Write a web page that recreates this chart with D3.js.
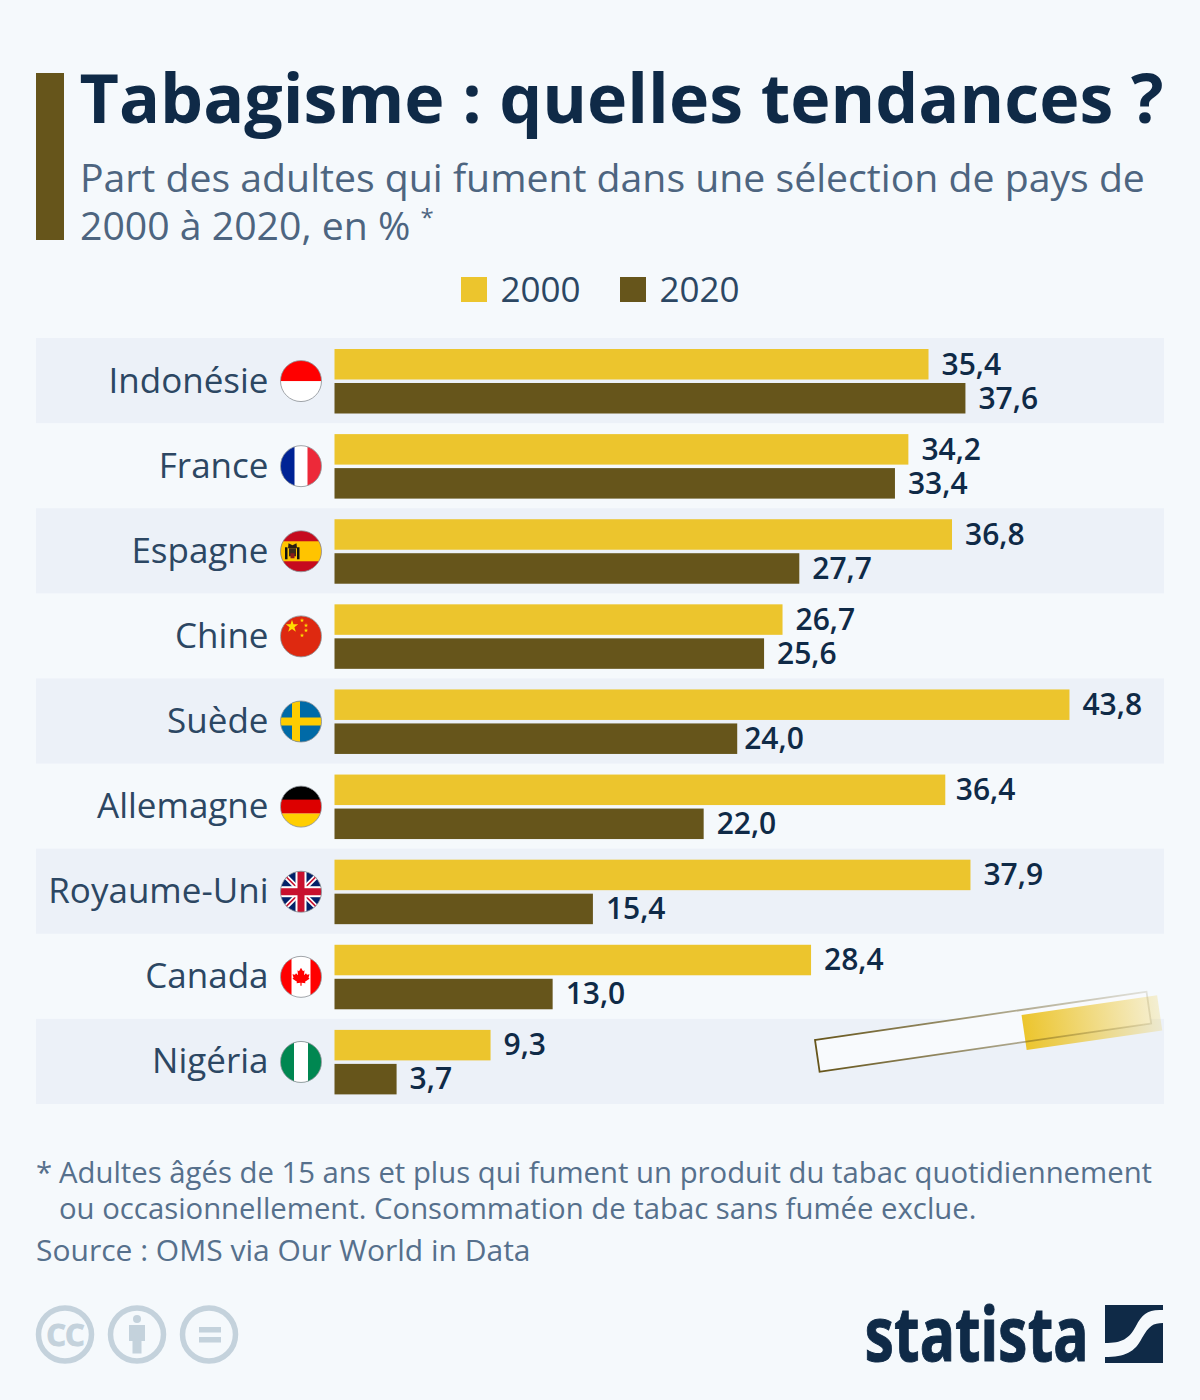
<!DOCTYPE html>
<html lang="fr">
<head>
<meta charset="utf-8">
<title>Tabagisme : quelles tendances ?</title>
<script src="https://cdn.jsdelivr.net/npm/d3@7"></script>
<style>
  html, body { margin: 0; padding: 0; background: #f5f9fc; }
  svg { display: block; font-family: 'Open Sans', sans-serif; }
</style>
</head>
<body>
<svg id="chart" width="1200" height="1400"></svg>
<script>
const categories = ['Indonésie', 'France', 'Espagne', 'Chine', 'Suède', 'Allemagne', 'Royaume-Uni', 'Canada', 'Nigéria'];
const values2000 = [35.4, 34.2, 36.8, 26.7, 43.8, 36.4, 37.9, 28.4, 9.3];
const values2020 = [37.6, 33.4, 27.7, 25.6, 24.0, 22.0, 15.4, 13.0, 3.7];
const years = ['2000', '2020'];

const navy = '#0f2a47', slate = '#4d6580', yellow = '#ecc52d', brown = '#66551b';

const svg = d3.select('#chart');
const defs = svg.append('defs');

// header
svg.append('rect').attr('x', 36).attr('y', 73).attr('width', 28).attr('height', 167).attr('fill', brown);
svg.append('text').attr('x', 79.5).attr('y', 123)
  .attr('font-size', 68.1).attr('font-weight', 700).attr('fill', navy)
  .text('Tabagisme : quelles tendances ?');
svg.append('text').attr('x', 80).attr('y', 192)
  .attr('font-size', 39.2).attr('fill', slate)
  .text('Part des adultes qui fument dans une sélection de pays de');
const sub2 = svg.append('text').attr('x', 80).attr('y', 240)
  .attr('font-size', 39.2).attr('fill', slate)
  .text('2000 à 2020, en % ');
sub2.append('tspan').attr('font-size', 24).attr('dy', -14).text('*');

// legend
const legendColor = d3.scaleOrdinal().domain(years).range([yellow, brown]);
const legendX = d3.scaleOrdinal().domain(years).range([461, 620]);
const legend = svg.append('g').selectAll('g').data(years).join('g')
  .attr('transform', d => `translate(${legendX(d)},277)`);
legend.append('rect').attr('width', 26).attr('height', 25).attr('fill', d => legendColor(d));
legend.append('text').attr('x', 39.5).attr('y', 25)
  .attr('font-size', 35).attr('fill', '#2c4763').text(d => d);

// rows and bars
const y = d3.scaleBand().domain(categories).range([338, 1104]);
const x = d3.scaleLinear().domain([0, 50]).range([334.5, 1173.5]);
const barH = 30.5;
const fmt = v => v.toFixed(1).replace('.', ',');

const rows = svg.append('g').selectAll('g').data(categories).join('g')
  .attr('transform', d => `translate(0,${y(d)})`);

rows.append('rect')
  .attr('x', 36).attr('width', 1128).attr('height', y.bandwidth())
  .attr('fill', (d, i) => i % 2 === 0 ? '#ecf1f8' : 'none');

rows.append('text')
  .attr('x', 268.5).attr('y', y.bandwidth() / 2 + 12)
  .attr('text-anchor', 'end').attr('font-size', 35).attr('fill', '#2c4763')
  .text(d => d);

rows.append('rect').attr('x', x(0)).attr('y', 11).attr('height', barH)
  .attr('width', (d, i) => x(values2000[i]) - x(0)).attr('fill', yellow);
rows.append('rect').attr('x', x(0)).attr('y', 45).attr('height', barH)
  .attr('width', (d, i) => x(values2020[i]) - x(0)).attr('fill', brown);

rows.append('text').attr('x', (d, i) => x(values2000[i]) + (d === 'Allemagne' ? 10.5 : 13)).attr('y', 36.5)
  .attr('font-size', 30).attr('font-weight', 600).attr('fill', navy)
  .text((d, i) => fmt(values2000[i]));
rows.append('text').attr('x', (d, i) => x(values2020[i]) + (d === 'Suède' ? 7 : 13)).attr('y', 70.5)
  .attr('font-size', 30).attr('font-weight', 600).attr('fill', navy)
  .text((d, i) => fmt(values2020[i]));

// flags, drawn in a 41x41 box centred on 0,0
const R = 20.5;
const band = (g, color, x0, y0, w, h) =>
  g.append('rect').attr('x', x0).attr('y', y0).attr('width', w).attr('height', h).attr('fill', color);
const star = (g, size, cx, cy, color) =>
  g.append('path').attr('d', d3.symbol(d3.symbolStar, size)())
    .attr('transform', `translate(${cx},${cy})`).attr('fill', color);

const flags = {
  'Indonésie': g => { band(g, '#fff', -R, -R, 41, 41); band(g, '#ff0000', -R, -R, 41, 20.5); },
  'France': g => { band(g, '#fff', -R, -R, 41, 41); band(g, '#002395', -R, -R, 14, 41); band(g, '#ed2939', 6.5, -R, 14, 41); },
  'Espagne': g => {
    band(g, '#c60b1e', -R, -R, 41, 41);
    band(g, '#ffc400', -R, -10, 41, 20);
    band(g, '#111', -16, -4, 2.5, 12);
    band(g, '#111', -4, -4, 2.5, 12);
    band(g, '#3a2a1c', -12, -3, 7, 8);
    band(g, '#8a1a1a', -10.5, 2, 4, 5);
    g.append('path').attr('d', 'M-13 -3 L-12.5 -8 L-8.5 -6 L-4.5 -8 L-4 -3 Z').attr('fill', '#2b1d12');
  },
  'Chine': g => {
    band(g, '#de2910', -R, -R, 41, 41);
    star(g, 48, -9, -10, '#ffde00');
    star(g, 6, 1, -16, '#ffde00');
    star(g, 6, 5, -11, '#ffde00');
    star(g, 6, 5, -6, '#ffde00');
    star(g, 6, 1, -1, '#ffde00');
  },
  'Suède': g => { band(g, '#006aa7', -R, -R, 41, 41); band(g, '#fecc00', -9, -R, 8, 41); band(g, '#fecc00', -R, -4, 41, 8); },
  'Allemagne': g => { band(g, '#000', -R, -R, 41, 14); band(g, '#dd0000', -R, -7, 41, 14); band(g, '#ffce00', -R, 7, 41, 14); },
  'Royaume-Uni': g => {
    band(g, '#012169', -R, -R, 41, 41);
    const diag = [[-R, -R, R, R], [-R, R, R, -R]];
    diag.forEach(l => g.append('line').attr('x1', l[0]).attr('y1', l[1]).attr('x2', l[2]).attr('y2', l[3]).attr('stroke', '#fff').attr('stroke-width', 5));
    diag.forEach(l => g.append('line').attr('x1', l[0]).attr('y1', l[1]).attr('x2', l[2]).attr('y2', l[3]).attr('stroke', '#c8102e').attr('stroke-width', 1.6));
    band(g, '#fff', -5.5, -R, 11, 41); band(g, '#fff', -R, -5.5, 41, 11);
    band(g, '#c8102e', -3.5, -R, 7, 41); band(g, '#c8102e', -R, -3.5, 41, 7);
  },
  'Canada': g => {
    band(g, '#fff', -R, -R, 41, 41);
    band(g, '#ff0000', -R, -R, 11, 41); band(g, '#ff0000', 9.5, -R, 11, 41);
    g.append('path').attr('fill', '#ff0000')
      .attr('d', 'M0 -9 L2 -5.5 L3.5 -6.5 L3 -1.5 L5 -3.5 L6 -2 L8.5 -2.5 L7.5 1 L8.5 2 L4 5 L4.5 6.5 L0.6 6 L0.6 9 L-0.6 9 L-0.6 6 L-4.5 6.5 L-4 5 L-8.5 2 L-7.5 1 L-8.5 -2.5 L-6 -2 L-5 -3.5 L-3 -1.5 L-3.5 -6.5 L-2 -5.5 Z');
  },
  'Nigéria': g => { band(g, '#008751', -R, -R, 41, 41); band(g, '#fff', -7, -R, 14, 41); }
};

defs.append('clipPath').attr('id', 'flag-clip').append('circle').attr('r', R);

const flag = rows.append('g').attr('transform', `translate(301,${y.bandwidth() / 2 + 0.5})`);
flag.append('g').attr('clip-path', 'url(#flag-clip)').each(function (d) { flags[d](d3.select(this)); });
flag.append('circle').attr('r', R).attr('fill', 'none').attr('stroke', '#8a8f94').attr('stroke-width', 0.8);

// cigarette
const strokeGrad = defs.append('linearGradient').attr('id', 'cig-stroke');
strokeGrad.append('stop').attr('offset', '0%').attr('stop-color', brown);
strokeGrad.append('stop').attr('offset', '100%').attr('stop-color', brown).attr('stop-opacity', 0.15);
const tipGrad = defs.append('linearGradient').attr('id', 'cig-tip');
tipGrad.append('stop').attr('offset', '0%').attr('stop-color', yellow);
tipGrad.append('stop').attr('offset', '100%').attr('stop-color', yellow).attr('stop-opacity', 0.2);

const cig = svg.append('g').attr('transform', 'translate(815,1040) rotate(-8.28)');
cig.append('rect').attr('width', 335).attr('height', 32).attr('fill', '#f8fafd');
cig.append('rect').attr('x', 208).attr('y', 5).attr('width', 137).attr('height', 35.5).attr('fill', 'url(#cig-tip)');
cig.append('rect').attr('width', 335).attr('height', 32).attr('fill', 'none')
  .attr('stroke', 'url(#cig-stroke)').attr('stroke-width', 1.8);

// notes
const noteColor = '#56708c';
const notes = svg.append('g').attr('font-size', 29.3).attr('fill', noteColor);
notes.append('text').attr('x', 36).attr('y', 1183).text('*');
notes.append('text').attr('x', 59).attr('y', 1183).text('Adultes âgés de 15 ans et plus qui fument un produit du tabac quotidiennement');
notes.append('text').attr('x', 59).attr('y', 1219).text('ou occasionnellement. Consommation de tabac sans fumée exclue.');
notes.append('text').attr('x', 36).attr('y', 1261).attr('font-size', 30).text('Source : OMS via Our World in Data');

// licence icons
const iconColor = '#c4d2dc';
const icons = svg.append('g').attr('fill', iconColor);
[65, 137, 209].forEach(cx => {
  icons.append('circle').attr('cx', cx).attr('cy', 1334.5).attr('r', 26.5)
    .attr('fill', 'none').attr('stroke', iconColor).attr('stroke-width', 5.5);
});
icons.append('text').attr('x', 65).attr('y', 1346).attr('text-anchor', 'middle')
  .attr('font-size', 31).attr('font-weight', 700).attr('letter-spacing', -1)
  .attr('stroke', iconColor).attr('stroke-width', 1).text('CC');
icons.append('circle').attr('cx', 137).attr('cy', 1319).attr('r', 4);
icons.append('path').attr('d', 'M129 1325 H145 V1341 H141.5 V1353.5 H132.5 V1341 H129 Z');
icons.append('rect').attr('x', 199).attr('y', 1327).attr('width', 22).attr('height', 5.5);
icons.append('rect').attr('x', 199).attr('y', 1337).attr('width', 22).attr('height', 5.5);

// statista logo
svg.append('text').attr('x', 864.5).attr('y', 1361)
  .attr('font-family', "'Noto Sans', sans-serif")
  .attr('font-size', 75).attr('font-weight', 700).attr('fill', navy)
  .attr('stroke', navy).attr('stroke-width', 1)
  .attr('textLength', 224).attr('lengthAdjust', 'spacingAndGlyphs')
  .text('statista');
svg.append('path').attr('fill', navy)
  .attr('d', 'M1105 1305 H1163 V1310 C1148 1309 1142 1314 1136 1326 C1129 1339 1122 1343 1105 1343 Z');
svg.append('path').attr('fill', navy)
  .attr('d', 'M1163 1323 V1363 H1105 V1357 C1125 1357 1135 1352 1142 1338 C1149 1326 1153 1323 1163 1323 Z');
</script>
</body>
</html>
